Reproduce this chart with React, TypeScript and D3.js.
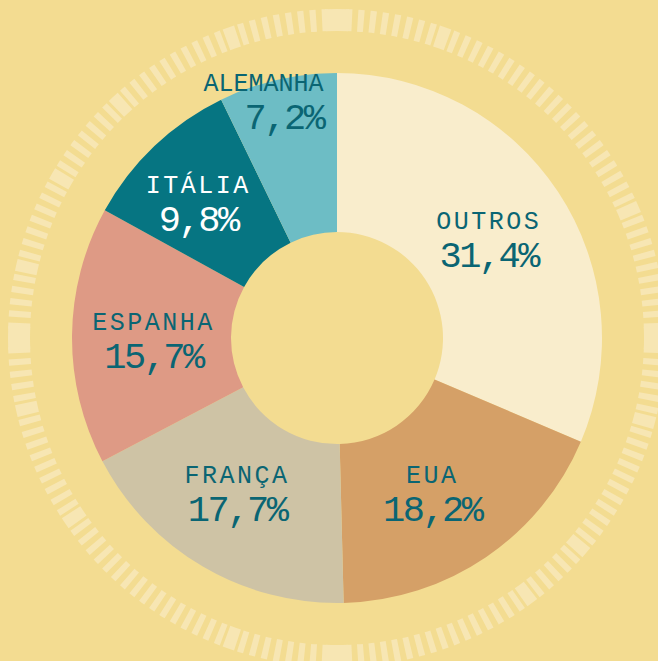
import React, { useRef, useEffect } from 'react';
import * as d3 from 'd3';

// shares by country (%)
const countries = ['OUTROS', 'EUA', 'FRANÇA', 'ESPANHA', 'ITÁLIA', 'ALEMANHA'];
const shares = [31.4, 18.2, 17.7, 15.7, 9.8, 7.2];
const sliceColors = ['#F9EDCC', '#D5A067', '#CEC3A5', '#DE9A85', '#067582', '#6DBDC5'];
const labelColors = ['#0A6573', '#0A6573', '#0A6573', '#0A6573', '#FFFFFF', '#0A6573'];

// decorative ring: angles (deg) where the ticks are drawn wider
const bigTicks = [0, 90, 180, 270];
const wideTicks = [20, 66, 104, 130, 144, 200, 236, 258, 282, 300, 318, 340];

const W = 658;
const H = 661;

const App = () => {
  const d3Container = useRef<HTMLDivElement>(null);

  useEffect(() => {
    document.body.style.margin = '0';
    if (!d3Container.current) return;
    d3.select(d3Container.current).select('svg').remove();

    const cx = 337;
    const cy = 338;
    const inner = 106;
    const outer = 265;

    const svg = d3.select(d3Container.current)
      .append('svg')
      .attr('width', W)
      .attr('height', H)
      .style('display', 'block');

    svg.append('rect')
      .attr('width', W)
      .attr('height', H)
      .attr('fill', '#F3DC91');

    const g = svg.append('g').attr('transform', `translate(${cx},${cy})`);

    // ring of ticks
    const ring = g.append('g').attr('fill', '#F7E6B3');
    const tickArc = d3.arc<any>().innerRadius(307).outerRadius(329);
    const nTicks = 168;
    const step = 360 / nTicks;
    const rad = (d: number) => (d * Math.PI) / 180;
    for (let i = 0; i < nTicks; i++) {
      const a = i * step;
      const near = (list: number[], tol: number) => list.some(b => Math.abs(((a - b + 540) % 360) - 180) < tol);
      if (near(bigTicks, step * 0.9)) continue;
      let w = 1.1;
      if (near(wideTicks, step / 2)) w = 2.1;
      ring.append('path').attr('d', tickArc({ startAngle: rad(a - w / 2), endAngle: rad(a + w / 2) }));
    }
    bigTicks.forEach(b => {
      ring.append('path').attr('d', tickArc({ startAngle: rad(b - 2.1), endAngle: rad(b + 2.1) }));
    });

    // donut
    const pie = d3.pie<number>().sort(null).value(d => d);
    const arcs = pie(shares);
    const arc = d3.arc<d3.PieArcDatum<number>>().innerRadius(inner).outerRadius(outer);

    g.selectAll('path.slice')
      .data(arcs)
      .enter()
      .append('path')
      .attr('class', 'slice')
      .attr('fill', (_, i) => sliceColors[i])
      .attr('d', arc);

    // labels near the slice centroids
    const nudges = [[-3, -7], [-9, -8], [-6, -15], [2, -6], [-11, -11], [28, -66]];
    const fmt = (v: number) => v.toFixed(1).replace('.', ',') + '%';

    arcs.forEach((a, i) => {
      const [x, y] = arc.centroid(a);
      const lx = x + nudges[i][0];
      const ly = y + nudges[i][1];
      const anchor = i === 5 ? 'end' : 'middle';
      const t = g.append('g')
        .attr('fill', labelColors[i])
        .attr('font-family', '"Liberation Mono", monospace')
        .attr('text-anchor', anchor);
      t.append('text')
        .attr('x', lx)
        .attr('y', ly)
        .attr('font-size', 25)
        .attr('letter-spacing', i === 5 ? 0 : 2.5)
        .text(countries[i]);
      t.append('text')
        .attr('x', lx)
        .attr('y', ly + 38)
        .attr('font-size', 37)
        .attr('letter-spacing', -2.5)
        .text(fmt(shares[i]));
    });
  }, []);

  return <div className="chart-container" ref={d3Container}></div>;
};

export default App;
